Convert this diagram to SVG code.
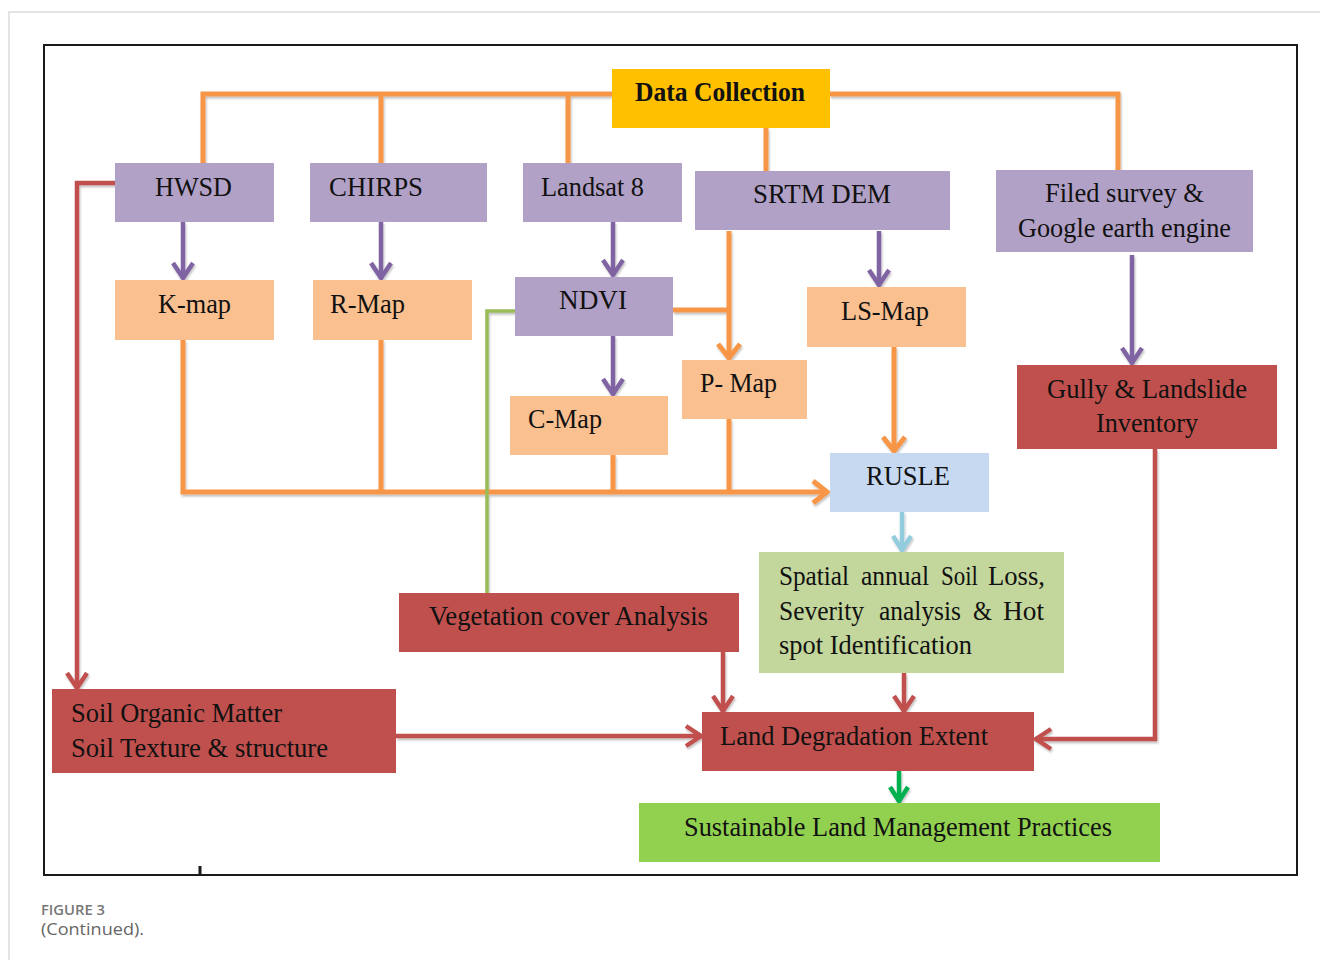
<svg xmlns="http://www.w3.org/2000/svg" width="1320" height="960" viewBox="0 0 1320 960">
<style>
.t{font-family:"Liberation Serif","Times New Roman",serif;font-size:27px;fill:#111}
.b{font-weight:bold}
.pu{fill:#B2A1C7}
.pe{fill:#FAC090}
.re{fill:#C0504D}
.o{stroke:#F79646;stroke-width:5;fill:none}
.p{stroke:#8064A2;stroke-width:4.5;fill:none}
.r{stroke:#C0504D;stroke-width:4.5;fill:none}
.g{stroke:#9BBB59;stroke-width:3.5;fill:none}
</style>
<defs>
<filter id="sh" x="-5%" y="-5%" width="110%" height="110%"><feDropShadow dx="1" dy="2" stdDeviation="1.2" flood-color="#000" flood-opacity="0.25"/></filter>
<marker id="mo" markerUnits="userSpaceOnUse" markerWidth="40" markerHeight="40" viewBox="-20 -20 40 40" refX="0" refY="0" orient="auto" overflow="visible"><path d="M-15,-11 L-1,0 L-15,11" fill="none" stroke="#F79646" stroke-width="5"/></marker>
<marker id="mp" markerUnits="userSpaceOnUse" markerWidth="40" markerHeight="40" viewBox="-20 -20 40 40" refX="0" refY="0" orient="auto" overflow="visible"><path d="M-16,-10 L-1,0 L-16,10" fill="none" stroke="#8064A2" stroke-width="4.5"/></marker>
<marker id="mr" markerUnits="userSpaceOnUse" markerWidth="40" markerHeight="40" viewBox="-20 -20 40 40" refX="0" refY="0" orient="auto" overflow="visible"><path d="M-16,-10 L-1,0 L-16,10" fill="none" stroke="#C0504D" stroke-width="4.5"/></marker>
<marker id="mb" markerUnits="userSpaceOnUse" markerWidth="40" markerHeight="40" viewBox="-20 -20 40 40" refX="0" refY="0" orient="auto" overflow="visible"><path d="M-15,-9 L-1,0 L-15,9" fill="none" stroke="#93CDDD" stroke-width="4.5"/></marker>
<marker id="mg" markerUnits="userSpaceOnUse" markerWidth="40" markerHeight="40" viewBox="-20 -20 40 40" refX="0" refY="0" orient="auto" overflow="visible"><path d="M-15,-9 L-1,0 L-15,9" fill="none" stroke="#00B050" stroke-width="4.5"/></marker>
</defs>
<rect x="0" y="0" width="1320" height="960" fill="#fff"/>
<path d="M9,960 V12 H1320" fill="none" stroke="#dcdcdc" stroke-width="1.5"/>
<rect x="44" y="45" width="1253" height="830" fill="none" stroke="#1a1a1a" stroke-width="2"/>
<line x1="200" y1="866" x2="200" y2="875" stroke="#1a1a1a" stroke-width="3"/>

<g id="connectors" filter="url(#sh)">
<path class="o" d="M203,163 V94 H612"/>
<path class="o" d="M381,94 V163"/>
<path class="o" d="M568,94 V163"/>
<path class="o" d="M830,94 H1118 V170"/>
<path class="o" d="M766,128 V171"/>
<path class="o" d="M183,340 V492 H828" marker-end="url(#mo)"/>
<path class="o" d="M381,340 V492"/>
<path class="o" d="M613,455 V492"/>
<path class="o" d="M729,419 V492"/>
<path class="o" d="M729,231 V359" marker-end="url(#mo)"/>
<path class="o" d="M673,310 H729"/>
<path class="o" d="M894,347 V452" marker-end="url(#mo)"/>
<path class="p" d="M183,222 V279" marker-end="url(#mp)"/>
<path class="p" d="M381,222 V279" marker-end="url(#mp)"/>
<path class="p" d="M613,222 V276" marker-end="url(#mp)"/>
<path class="p" d="M613,336 V395" marker-end="url(#mp)"/>
<path class="p" d="M879,231 V286" marker-end="url(#mp)"/>
<path class="p" d="M1132,255 V364" marker-end="url(#mp)"/>
<path class="r" d="M115,183 H77 V689" marker-end="url(#mr)"/>
<path class="r" d="M396,736 H702" marker-end="url(#mr)"/>
<path class="r" d="M723,652 V712" marker-end="url(#mr)"/>
<path class="r" d="M904,673 V712" marker-end="url(#mr)"/>
<path class="r" d="M1155,449 V739 H1035" marker-end="url(#mr)"/>
<path class="g" d="M515,311 H487 V593"/>
<path d="M902,512 V551" fill="none" stroke="#93CDDD" stroke-width="4.5" marker-end="url(#mb)"/>
<path d="M899,771 V802" fill="none" stroke="#00B050" stroke-width="4.5" marker-end="url(#mg)"/>
</g>

<g id="data-collection"><rect x="612" y="69" width="218" height="59" fill="#FFC000"/><text class="t b" x="635" y="101" textLength="170" lengthAdjust="spacingAndGlyphs">Data Collection</text></g>
<g id="hwsd"><rect class="pu" x="115" y="163" width="159" height="59"/><text class="t" x="155" y="196" textLength="77" lengthAdjust="spacingAndGlyphs">HWSD</text></g>
<g id="chirps"><rect class="pu" x="310" y="163" width="177" height="59"/><text class="t" x="329" y="196" textLength="94" lengthAdjust="spacingAndGlyphs">CHIRPS</text></g>
<g id="landsat8"><rect class="pu" x="523" y="163" width="159" height="59"/><text class="t" x="541" y="196" textLength="103" lengthAdjust="spacingAndGlyphs">Landsat 8</text></g>
<g id="srtm-dem"><rect class="pu" x="695" y="171" width="255" height="59"/><text class="t" x="753" y="203" textLength="138" lengthAdjust="spacingAndGlyphs">SRTM DEM</text></g>
<g id="field-survey"><rect class="pu" x="996" y="170" width="257" height="82"/><text class="t" x="1045" y="202" textLength="159" lengthAdjust="spacingAndGlyphs">Filed survey  &amp;</text><text class="t" x="1018" y="237" textLength="213" lengthAdjust="spacingAndGlyphs">Google earth engine</text></g>
<g id="k-map"><rect class="pe" x="115" y="280" width="159" height="60"/><text class="t" x="158" y="313" textLength="73" lengthAdjust="spacingAndGlyphs">K-map</text></g>
<g id="r-map"><rect class="pe" x="313" y="280" width="159" height="60"/><text class="t" x="330" y="313" textLength="75" lengthAdjust="spacingAndGlyphs">R-Map</text></g>
<g id="ndvi"><rect class="pu" x="515" y="277" width="158" height="59"/><text class="t" x="559" y="309" textLength="68" lengthAdjust="spacingAndGlyphs">NDVI</text></g>
<g id="ls-map"><rect class="pe" x="807" y="287" width="159" height="60"/><text class="t" x="841" y="320" textLength="88" lengthAdjust="spacingAndGlyphs">LS-Map</text></g>
<g id="c-map"><rect class="pe" x="510" y="396" width="158" height="59"/><text class="t" x="528" y="428" textLength="74" lengthAdjust="spacingAndGlyphs">C-Map</text></g>
<g id="p-map"><rect class="pe" x="682" y="360" width="125" height="59"/><text class="t" x="700" y="392" textLength="77" lengthAdjust="spacingAndGlyphs">P- Map</text></g>
<g id="rusle"><rect x="830" y="453" width="159" height="59" fill="#C6D9F1"/><text class="t" x="866" y="485" textLength="84" lengthAdjust="spacingAndGlyphs">RUSLE</text></g>
<g id="gully"><rect class="re" x="1017" y="365" width="260" height="84"/><text class="t" x="1047" y="398" textLength="200" lengthAdjust="spacingAndGlyphs">Gully &amp; Landslide</text><text class="t" x="1096" y="432" textLength="102" lengthAdjust="spacingAndGlyphs">Inventory</text></g>
<g id="soil-loss"><rect x="759" y="552" width="305" height="121" fill="#C3D69B"/>
<text class="t" x="779" y="585" textLength="70" lengthAdjust="spacingAndGlyphs">Spatial</text>
<text class="t" x="861" y="585" textLength="68" lengthAdjust="spacingAndGlyphs">annual</text>
<text class="t" x="941" y="585" textLength="37" lengthAdjust="spacingAndGlyphs">Soil</text>
<text class="t" x="988" y="585" textLength="57" lengthAdjust="spacingAndGlyphs">Loss,</text>
<text class="t" x="779" y="620" textLength="85" lengthAdjust="spacingAndGlyphs">Severity</text>
<text class="t" x="879" y="620" textLength="82" lengthAdjust="spacingAndGlyphs">analysis</text>
<text class="t" x="973" y="620" textLength="19" lengthAdjust="spacingAndGlyphs">&amp;</text>
<text class="t" x="1003" y="620" textLength="41" lengthAdjust="spacingAndGlyphs">Hot</text>
<text class="t" x="779" y="654" textLength="193" lengthAdjust="spacingAndGlyphs">spot Identification</text></g>
<g id="vegetation"><rect class="re" x="399" y="593" width="340" height="59"/><text class="t" x="429" y="625" textLength="279" lengthAdjust="spacingAndGlyphs">Vegetation cover Analysis</text></g>
<g id="soil-organic"><rect class="re" x="52" y="689" width="344" height="84"/><text class="t" x="71" y="722" textLength="211" lengthAdjust="spacingAndGlyphs">Soil Organic Matter</text><text class="t" x="71" y="757" textLength="257" lengthAdjust="spacingAndGlyphs">Soil Texture &amp; structure</text></g>
<g id="land-degradation"><rect class="re" x="702" y="712" width="332" height="59"/><text class="t" x="720" y="745" textLength="268" lengthAdjust="spacingAndGlyphs">Land Degradation Extent</text></g>
<g id="slm"><rect x="639" y="803" width="521" height="59" fill="#92D050"/><text class="t" x="684" y="836" textLength="428" lengthAdjust="spacingAndGlyphs">Sustainable Land Management Practices</text></g>

<text x="41" y="915" font-family="'Open Sans','Liberation Sans',sans-serif" font-size="14.5" font-weight="600" fill="#777" textLength="64" lengthAdjust="spacingAndGlyphs">FIGURE 3</text>
<text x="41" y="935" font-family="'Open Sans','Liberation Sans',sans-serif" font-size="17" fill="#666" textLength="103" lengthAdjust="spacingAndGlyphs">(Continued).</text>
</svg>
